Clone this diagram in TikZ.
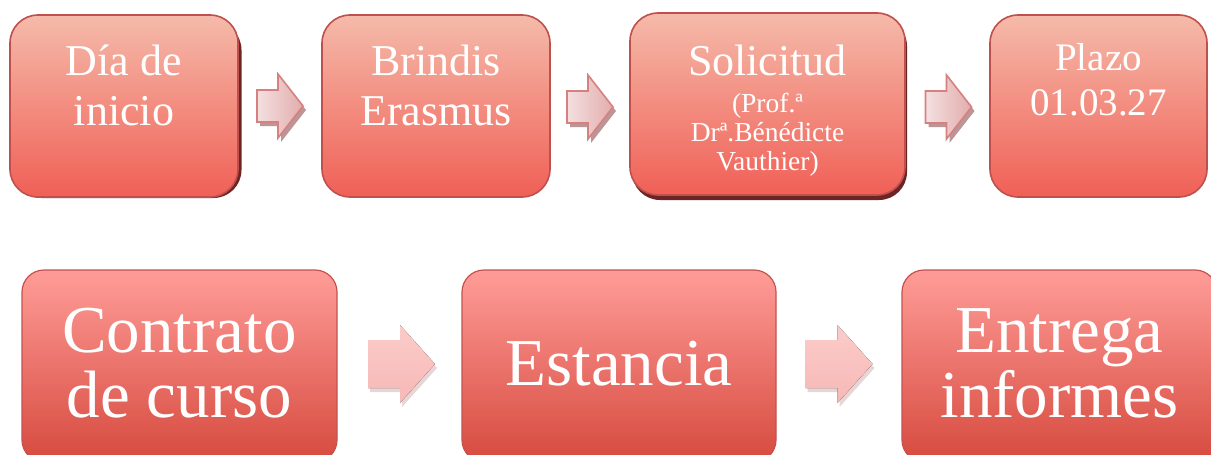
\documentclass[tikz,border=0pt]{standalone}
\usepackage{fontspec}
\setmainfont{Liberation Serif}
\usetikzlibrary{calc}
\definecolor{tTop}{RGB}{245,186,170}
\definecolor{tBot}{RGB}{240,96,86}
\definecolor{tEdge}{RGB}{192,80,77}
\definecolor{bTop}{RGB}{255,156,152}
\definecolor{bBot}{RGB}{214,74,62}
\definecolor{bEdge}{RGB}{196,82,78}
\definecolor{shDark}{RGB}{108,36,36}
\definecolor{aLight}{RGB}{244,224,224}
\definecolor{aDark}{RGB}{226,172,172}
\definecolor{aEdge}{RGB}{214,128,128}
\definecolor{aShadow}{RGB}{188,150,150}
\definecolor{pTop}{RGB}{251,204,202}
\definecolor{pBot}{RGB}{246,184,182}
\definecolor{pShadow}{RGB}{232,214,214}
\tikzset{
  topbox/.style={draw=tEdge, line width=1.6pt, rounded corners=28pt,
    top color=tTop, bottom color=tBot,
    minimum width=228pt, minimum height=182pt, inner sep=0pt},
  shadowbox/.style={fill=shDark, rounded corners=28pt,
    minimum width=228pt, minimum height=182pt, inner sep=0pt},
  botbox/.style={draw=bEdge, line width=1.2pt, rounded corners=22pt,
    top color=bTop, bottom color=bBot,
    minimum width=315pt, minimum height=192pt, inner sep=0pt},
  boxtext/.style={text=white, align=center, anchor=base, inner sep=0pt},
  bigtext/.style={boxtext, font=\fontsize{44}{50}\selectfont},
  hugetext/.style={boxtext, font=\fontsize{67}{65}\selectfont},
  toparrow/.pic={
    \fill[aShadow] (-20,-12) -- ++(21,0) -- ++(0,-16) -- ++(25,32) -- ++(-25,32) -- ++(0,-16) -- ++(-21,0) -- cycle;
    \draw[draw=aEdge, line width=1.6pt, left color=aLight, right color=aDark, line join=miter]
      (-23,-16) -- ++(21,0) -- ++(0,-16) -- ++(25,32) -- ++(-25,32) -- ++(0,-16) -- ++(-21,0) -- cycle;
  },
  botarrow/.pic={
    \fill[pShadow] (-31.5,-20) -- ++(32,0) -- ++(0,-15) -- ++(35,39) -- ++(-35,39) -- ++(0,-15) -- ++(-32,0) -- cycle;
    \fill[top color=pTop, bottom color=pBot]
      (-33.5,-24) -- ++(32,0) -- ++(0,-15) -- ++(35,39) -- ++(-35,39) -- ++(0,-15) -- ++(-32,0) -- cycle;
  }
}
\begin{document}
\begin{tikzpicture}[x=1pt,y=-1pt]
\useasboundingbox (0,0) rectangle (1211,455);
\clip (0,0) rectangle (1211,455);
\fill[white] (0,0) rectangle (1211,455);

% shadows of the top boxes
\node[shadowbox, minimum height=176pt] (s1) at (127.5,110) {};
\node[shadowbox, minimum width=275pt] (s3) at (769.5,109) {};

% top row boxes
\node[topbox] (b1) at (124,106) {};
\node[topbox] (b2) at (436,106) {};
\node[topbox, minimum width=275pt] (b3) at (767.5,104) {};
\node[topbox, minimum width=217pt] (b4) at (1098.5,106) {};

\node[bigtext] (t1) at (124,125) {Día de\\inicio};
\node[bigtext] (t2) at (436,125) {Brindis\\Erasmus};
\node[boxtext, font=\fontsize{27.5}{29}\selectfont] (t3) at (767.5,170)
  {{\fontsize{44}{50}\selectfont Solicitud}\\[8pt](Prof.ª\\Drª.Bénédicte\\Vauthier)};
\node[boxtext, font=\fontsize{39}{45}\selectfont] (t4) at (1098.5,115) {Plazo\\01.03.27};

% top arrows
\coordinate (a1) at ($(b1.east)!0.5!(b2.west)$);
\coordinate (a2) at ($(b2.east)!0.5!(b3.west)+(0,2)$);
\coordinate (a3) at ($(b3.east)!0.5!(b4.west)+(1,2)$);
\pic at (a1) {toparrow};
\pic at (a2) {toparrow};
\pic at (a3) {toparrow};

% bottom row boxes
\node[botbox] (b5) at (179.5,366) {};
\node[botbox, minimum width=314pt] (b6) at (619,366) {};
\node[botbox] (b7) at (1059.5,366) {};

\node[hugetext] (t5) at (179.5,417) {Contrato\\de curso};
\node[hugetext] (t6) at (619,385) {Estancia};
\node[hugetext] (t7) at (1059.5,417) {Entrega\\informes};

% bottom arrows
\coordinate (a4) at ($(b5.east)!0.5!(b6.west)+(2,-2)$);
\coordinate (a5) at ($(b6.east)!0.5!(b7.west)+(0,-2)$);
\pic at (a4) {botarrow};
\pic at (a5) {botarrow};
\end{tikzpicture}
\end{document}
